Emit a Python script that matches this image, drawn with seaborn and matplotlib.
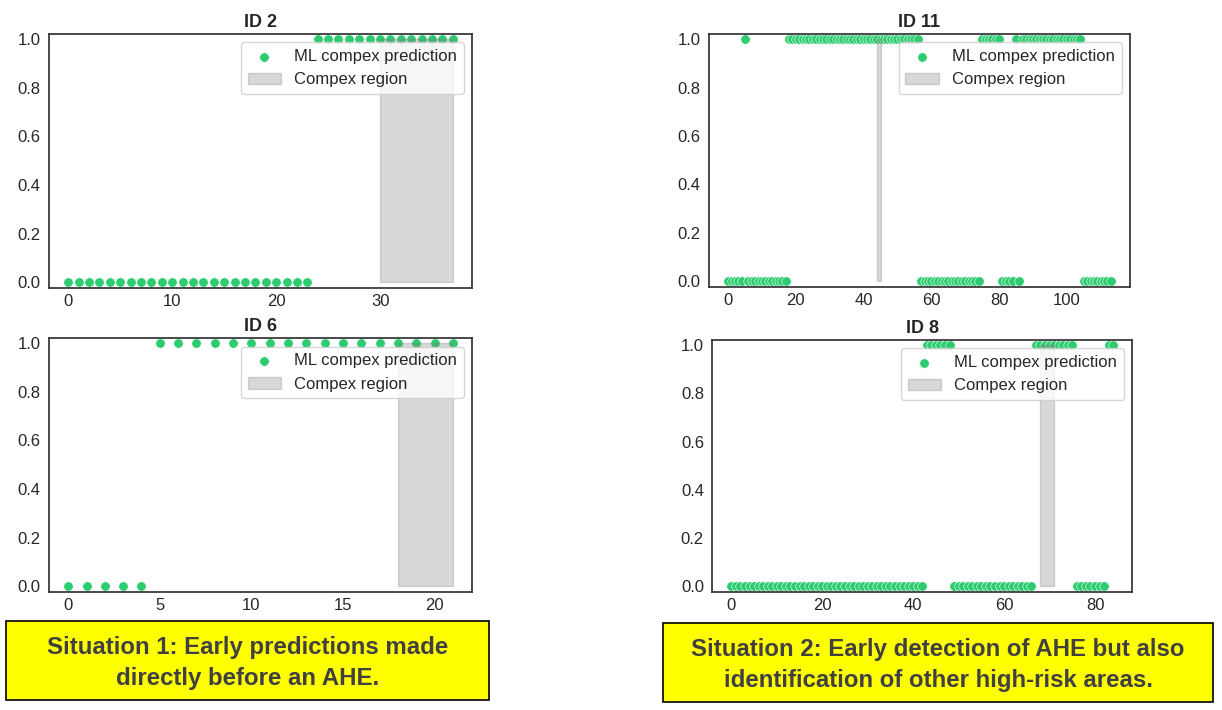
import matplotlib.pyplot as plt
import numpy as np
import seaborn as sns
from matplotlib.patches import Rectangle

# Predictions per time step (0 = no compex, 1 = compex predicted)
pred_id2 = [0] * 24 + [1] * 14
pred_id6 = [0] * 5 + [1] * 17
pred_id11 = ([0] * 5 + [1] + [0] * 12 + [1] * 39 + [0] * 18 + [1] * 6
             + [0] * 4 + [1] + [0] + [1] * 18 + [0] * 9)
pred_id8 = [0] * 43 + [1] * 6 + [0] * 18 + [1] * 9 + [0] * 7 + [1] * 2

# Actual compex region (first and last step)
region_id2 = (30, 37)
region_id6 = (18, 21)
region_id11 = (44, 45)
region_id8 = (68, 71)

titles = ['ID 2', 'ID 6', 'ID 11', 'ID 8']
preds = [pred_id2, pred_id6, pred_id11, pred_id8]
regions = [region_id2, region_id6, region_id11, region_id8]

situation_texts = [
    'Situation 1: Early predictions made\ndirectly before an AHE.',
    'Situation 2: Early detection of AHE but also\nidentification of other high-risk areas.',
]

sns.set_theme(style='white')
plt.rcParams['font.family'] = ['Liberation Sans', 'DejaVu Sans']

fig = plt.figure(figsize=(12.22, 7.10), dpi=100)

# axes positions in figure fractions
positions = [
    [0.0401, 0.5944, 0.3462, 0.3577],
    [0.0401, 0.1666, 0.3462, 0.3569],
    [0.5802, 0.5958, 0.3445, 0.3563],
    [0.5829, 0.1666, 0.3437, 0.3545],
]

for pos, title, pred, (r0, r1) in zip(positions, titles, preds, regions):
    ax = fig.add_axes(pos)
    x = np.arange(len(pred))
    y = np.array(pred)
    sns.scatterplot(x=x, y=y, color='#2ecc71', s=46, linewidth=0.4,
                    edgecolor='white', label='ML compex prediction', ax=ax)
    ax.fill_between(x, 0, 1, where=(x >= r0) & (x <= r1), color='gray',
                    alpha=0.3, label='Compex region')
    ax.set_ylim(-0.023, 1.021)
    ax.set_yticks([0.0, 0.2, 0.4, 0.6, 0.8, 1.0])
    ax.set_title(title, fontsize=13, fontweight='bold', pad=5)
    ax.tick_params(labelsize=12, colors='#262626', length=0)
    ax.tick_params(axis='x', pad=4.5)
    ax.tick_params(axis='y', pad=6)
    ax.legend(loc='upper right', fontsize=12)
    for spine in ax.spines.values():
        spine.set_color('#333333')

# yellow annotation boxes
boxes = [(6, 621, 483, 79), (663, 623, 550, 79)]
for (bx, by, bw, bh), txt in zip(boxes, situation_texts):
    x0 = bx / 1222
    y0 = 1 - (by + bh) / 710
    w = bw / 1222
    h = bh / 710
    fig.patches.append(Rectangle((x0, y0), w, h, transform=fig.transFigure,
                                 facecolor='#ffff00', edgecolor='black',
                                 linewidth=1.2))
    fig.text(x0 + w / 2, y0 + h / 2 - 0.004, txt, ha='center', va='center',
             fontsize=17.3, fontweight='bold', color='#404040',
             linespacing=1.45)

plt.savefig('out.png', dpi=100)
